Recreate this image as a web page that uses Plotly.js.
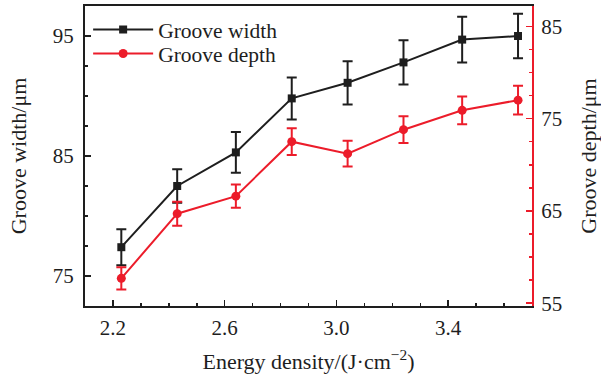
<!DOCTYPE html>
<html>
<head>
<meta charset="utf-8">
<script src="https://cdn.plot.ly/plotly-3.0.1.min.js"></script>
<style>html,body{margin:0;padding:0;background:#fff;}#chart{width:601px;height:374px;}</style>
</head>
<body>
<div id="chart"></div>
<script>
var energyDensity = [2.23, 2.43, 2.64, 2.84, 3.04, 3.24, 3.45, 3.65];
var grooveWidth = [77.4, 82.5, 85.3, 89.8, 91.1, 92.8, 94.7, 95.0];
var grooveWidthErr = [1.5, 1.4, 1.7, 1.75, 1.8, 1.85, 1.9, 1.85];
var grooveDepth = [57.7, 64.7, 66.6, 72.5, 71.2, 73.8, 75.9, 77.0];
var grooveDepthErr = [1.2, 1.3, 1.25, 1.45, 1.4, 1.45, 1.5, 1.55];
var seriesNames = ['Groove width', 'Groove depth'];

var BLACK = '#1e1e1e';
var RED = '#ec1c2a';
var FONT = 'Liberation Serif, Times New Roman, serif';

var traces = [
  {
    x: energyDensity, y: grooveWidth, name: seriesNames[0], legend: 'legend',
    type: 'scatter', mode: 'lines+markers',
    line: {color: BLACK, width: 2},
    marker: {symbol: 'square', size: 8, color: BLACK},
    error_y: {type: 'data', array: grooveWidthErr, visible: true, color: BLACK, thickness: 2, width: 5}
  },
  {
    x: energyDensity, y: grooveDepth, name: seriesNames[1], yaxis: 'y2', legend: 'legend2',
    type: 'scatter', mode: 'lines+markers',
    line: {color: RED, width: 2},
    marker: {symbol: 'circle', size: 9, color: RED},
    error_y: {type: 'data', array: grooveDepthErr, visible: true, color: RED, thickness: 2, width: 5}
  }
];

var legendFont = {family: FONT, size: 21.5, color: BLACK};
var layout = {
  width: 601, height: 374,
  margin: {l: 85, r: 69, t: 6, b: 68},
  paper_bgcolor: '#fff', plot_bgcolor: '#fff',
  font: {family: FONT, size: 21, color: BLACK},
  showlegend: true,
  legend: {x: 0.007, y: 0.99, xanchor: 'left', yanchor: 'top', bgcolor: 'rgba(0,0,0,0)',
           font: legendFont, itemwidth: 60},
  legend2: {x: 0.007, y: 0.91, xanchor: 'left', yanchor: 'top', bgcolor: 'rgba(0,0,0,0)',
           font: legendFont, itemwidth: 60},
  xaxis: {
    range: [2.1, 3.7], tick0: 2.2, dtick: 0.4, tickformat: '.1f',
    ticks: 'inside', ticklen: 6, tickwidth: 1.5, tickcolor: BLACK, ticklabelstandoff: 2,
    minor: {dtick: 0.1, ticks: 'inside', ticklen: 3, tickwidth: 1.5, tickcolor: BLACK, showgrid: false},
    showline: true, linecolor: BLACK, linewidth: 2, mirror: true,
    showgrid: false, zeroline: false,
    title: {text: 'Energy density/(J·cm<sup>−2</sup>)', font: {family: FONT, size: 22, color: BLACK}, standoff: 16}
  },
  yaxis: {
    range: [72.5, 97.5], tick0: 75, dtick: 10,
    ticks: 'inside', ticklen: 6, tickwidth: 1.5, tickcolor: BLACK, ticklabelstandoff: 5,
    minor: {dtick: 2.5, ticks: 'inside', ticklen: 3, tickwidth: 1.5, tickcolor: BLACK, showgrid: false},
    showline: true, linecolor: BLACK, linewidth: 2,
    showgrid: false, zeroline: false,
    title: {text: 'Groove width/μm', font: {family: FONT, size: 22, color: BLACK}, standoff: 20}
  },
  yaxis2: {
    overlaying: 'y', side: 'right',
    range: [54.7, 87.2], tick0: 55, dtick: 10,
    ticks: 'inside', ticklen: 6, tickwidth: 1.5, tickcolor: RED, ticklabelstandoff: 3,
    minor: {dtick: 2.5, ticks: 'inside', ticklen: 3, tickwidth: 1.5, tickcolor: RED, showgrid: false},
    showline: true, linecolor: RED, linewidth: 2,
    showgrid: false, zeroline: false,
    tickfont: {family: FONT, size: 21, color: BLACK},
    title: {text: 'Groove depth/μm', font: {family: FONT, size: 22, color: BLACK}, standoff: 22}
  }
};

Plotly.newPlot('chart', traces, layout, {staticPlot: true, displayModeBar: false});
</script>
</body>
</html>
